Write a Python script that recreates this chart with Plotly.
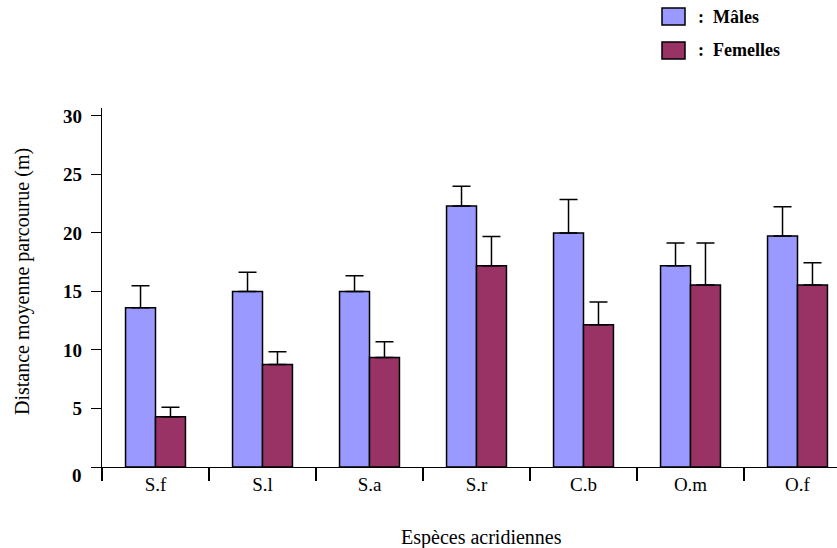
import plotly.graph_objects as go

# Mean distance travelled per species, with upper standard error
species = ["S.f", "S.l", "S.a", "S.r", "C.b", "O.m", "O.f"]
males = [13.6, 15.0, 15.0, 22.3, 20.0, 17.2, 19.75]
males_err = [1.9, 1.65, 1.35, 1.7, 2.85, 1.95, 2.5]
females = [4.3, 8.75, 9.35, 17.2, 12.15, 15.55, 15.55]
females_err = [0.8, 1.1, 1.35, 2.5, 1.95, 3.6, 1.9]

y_ticks = [0, 5, 10, 15, 20, 25, 30]
legend_labels = [":  Mâles", ":  Femelles"]
colors = ["#9999FF", "#993366"]

W, H = 837, 548
L, R, T, B = 102, 0, 108, 81
SERIF = "Liberation Serif, Times New Roman, serif"


def px_x(p):
    return (p - L) / (W - L - R)


def px_y(p):
    return (H - B - p) / (H - T - B)


def err(vals):
    return dict(type="data", array=vals, arrayminus=[0] * len(vals),
                symmetric=False, color="black", thickness=1.5, width=9)


fig = go.Figure()
fig.add_trace(go.Bar(x=species, y=males, name="Mâles", error_y=err(males_err),
                     marker=dict(color=colors[0], line=dict(color="black", width=1.5))))
fig.add_trace(go.Bar(x=species, y=females, name="Femelles", error_y=err(females_err),
                     marker=dict(color=colors[1], line=dict(color="black", width=1.5))))

# Hand-drawn legend boxes with labels in the top-right corner
shapes = []
annotations = []
for i, (lab, col) in enumerate(zip(legend_labels, colors)):
    y0, y1 = 8 + 34 * i, 25 + 34 * i
    shapes.append(dict(type="rect", xref="paper", yref="paper",
                       x0=px_x(662), x1=px_x(685), y0=px_y(y1), y1=px_y(y0),
                       fillcolor=col, line=dict(color="black", width=1.5)))
    annotations.append(dict(text=f"<b>{lab}</b>", xref="paper", yref="paper",
                            x=px_x(696), y=px_y((y0 + y1) / 2), xanchor="left",
                            yanchor="middle", showarrow=False,
                            font=dict(family=SERIF, size=18, color="black")))

annotations.append(dict(text="Espèces acridiennes", xref="paper", yref="paper",
                        x=px_x(481), y=px_y(537), xanchor="center", yanchor="middle",
                        showarrow=False, font=dict(family=SERIF, size=20, color="black")))
annotations.append(dict(text="Distance moyenne parcourue (m)", xref="paper", yref="paper",
                        x=px_x(22), y=px_y(282), xanchor="center", yanchor="middle",
                        textangle=-90, showarrow=False,
                        font=dict(family=SERIF, size=20, color="black")))
# the zero label sits a little below its tick
annotations.append(dict(text="<b>0</b>", xref="paper", yref="y", x=px_x(84), y=0,
                        yshift=-8, xanchor="right", yanchor="middle", showarrow=False,
                        font=dict(family=SERIF, size=19, color="black")))

fig.update_layout(
    width=W, height=H,
    margin=dict(l=L, r=R, t=T, b=B),
    paper_bgcolor="white", plot_bgcolor="white",
    barmode="group", bargap=0.44, bargroupgap=0,
    showlegend=False,
    shapes=shapes, annotations=annotations,
    font=dict(family=SERIF, color="black"),
)
fig.update_xaxes(range=[-0.5, -0.5 + (W - L - R) / 107.0], showline=True,
                 linecolor="black", linewidth=1.2, ticks="outside", tickson="boundaries",
                 ticklen=13, tickwidth=1.5, tickcolor="black", showgrid=False,
                 tickfont=dict(family=SERIF, size=19, color="black"))
fig.update_yaxes(range=[0, 30.68], tickvals=y_ticks,
                 ticktext=["" if v == 0 else f"<b>{v}</b>" for v in y_ticks],
                 showline=True, linecolor="black", linewidth=1.2, ticks="outside",
                 ticklen=10, tickwidth=1.2, tickcolor="black", showgrid=False,
                 ticklabelstandoff=5,
                 zeroline=False, tickfont=dict(family=SERIF, size=19, color="black"))

fig.write_html("out.html")
